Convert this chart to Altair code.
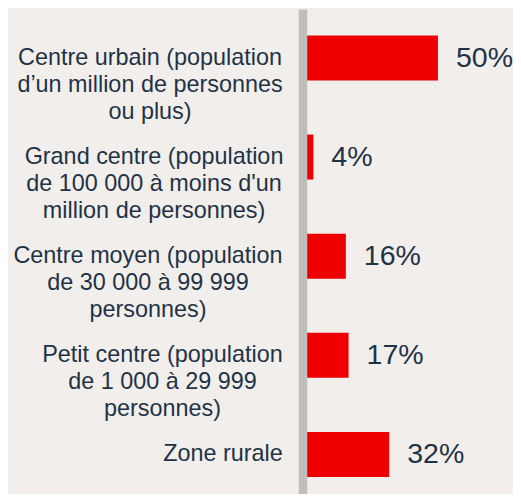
import altair as alt
import pandas as pd

# ---- data ----
categories = [
    "Centre urbain (population\nd’un million de personnes\nou plus)",
    "Grand centre (population\nde 100 000 à moins d'un\nmillion de personnes)",
    "Centre moyen (population\nde 30 000 à 99 999\npersonnes)",
    "Petit centre (population\nde 1 000 à 29 999\npersonnes)",
    "Zone rurale",
]
values = [50, 4, 16, 17, 32]

# ---- style ----
BG = "#F2EEEB"
RED = "#EE0000"
TEXT = "#1F3347"
AXIS_GREY = "#C0BEBC"
FONT = "Liberation Sans"
# horizontal offset (px) of each category text block's centre from the axis line
label_centre_offsets = [-152.5, -148.5, -154.5, -140, -79.5]

df = pd.DataFrame({"cat": categories, "value": values, "rank": list(range(len(categories)))})

y_enc = alt.Y(
    "cat:N",
    sort=categories,
    scale=alt.Scale(paddingInner=0.546, paddingOuter=0.219, align=0.608),
    axis=alt.Axis(
        title=None, labels=False, ticks=False, tickSize=0, grid=False,
        domain=True, domainColor=AXIS_GREY, domainWidth=8.5, zindex=1,
    ),
)
x_scale = alt.Scale(domain=[0, 77.7], nice=False, zero=True)

base = alt.Chart(df)

bars = base.mark_bar(color=RED).encode(
    y=y_enc,
    x=alt.X("value:Q", scale=x_scale, axis=None),
)

value_text = base.transform_calculate(
    label="datum.value + '%'"
).mark_text(
    align="left", baseline="middle", dx=18, fontSize=28.5, font=FONT, color=TEXT
).encode(
    y=alt.Y("cat:N", sort=categories),
    x=alt.X("value:Q", scale=x_scale),
    text="label:N",
)

offs = ",".join(str(v) for v in label_centre_offsets)
cat_text = base.mark_text(
    align="center", baseline="middle", lineBreak="\n", lineHeight=27,
    fontSize=23.4, font=FONT, color=TEXT,
    dx=alt.ExprRef(f"[{offs}][datum.rank]"),
).encode(
    y=alt.Y("cat:N", sort=categories),
    x=alt.datum(0, scale=x_scale),
    text="cat:N",
)

chart = alt.layer(bars, value_text, cat_text).properties(
    width=210.5,
    height=485,
    background=BG,
    padding={"left": 294.5, "top": 1, "right": 0, "bottom": 0},
    autosize=alt.AutoSizeParams(type="none"),
).configure_view(stroke=None)

chart.save("out.html", embed_options={"renderer": "svg", "actions": False})
